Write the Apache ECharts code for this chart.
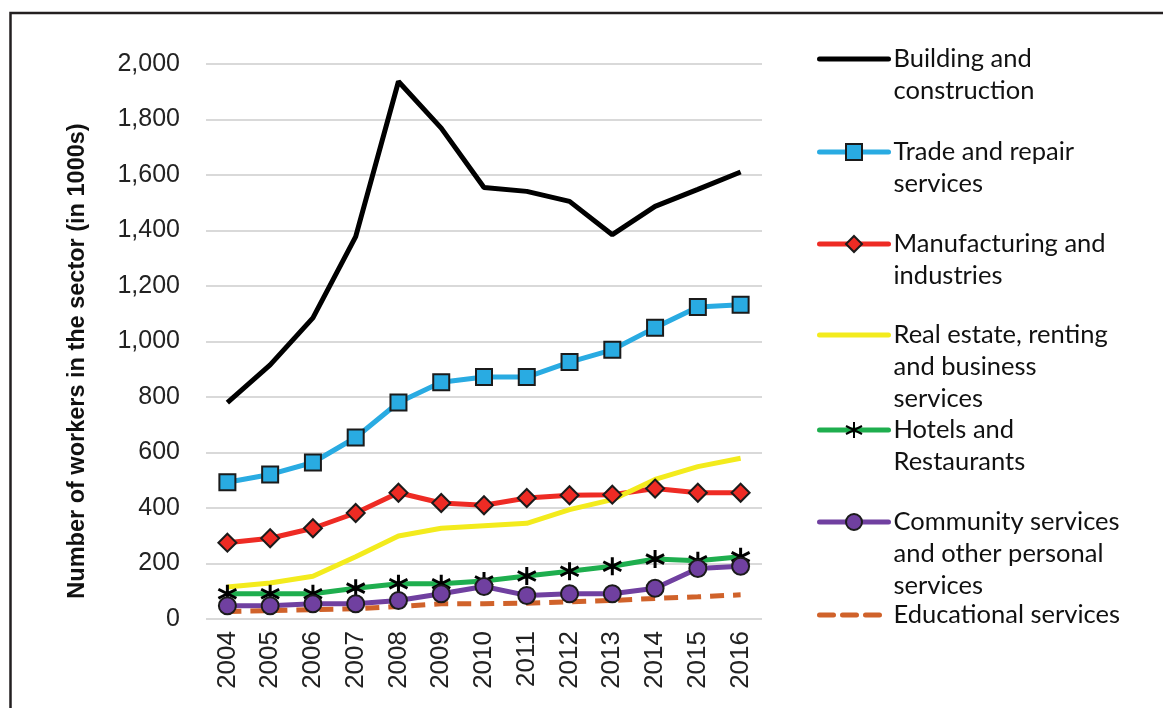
<!DOCTYPE html>
<html>
<head>
<meta charset="utf-8">
<title>Workers by sector</title>
<script src="https://cdn.jsdelivr.net/npm/echarts@6/dist/echarts.min.js"></script>
<style>
  html, body { margin: 0; padding: 0; background: #fff; }
  #chart { width: 1163px; height: 708px; }
</style>
</head>
<body>
<div id="chart"></div>
<script>
// data (workers in 1000s)
var years = ['2004', '2005', '2006', '2007', '2008', '2009', '2010', '2011', '2012', '2013', '2014', '2015', '2016'];
var building = [780, 916, 1085, 1378, 1937, 1769, 1555, 1541, 1505, 1385, 1487, 1548, 1611];
var trade = [493, 521, 564, 654, 780, 853, 872, 872, 926, 970, 1050, 1124, 1132];
var manufacturing = [275, 291, 327, 382, 455, 418, 410, 436, 446, 448, 470, 455, 455];
var realEstate = [115, 130, 154, 224, 299, 327, 336, 345, 394, 430, 503, 549, 579];
var hotels = [91, 91, 91, 111, 127, 127, 137, 155, 172, 190, 216, 210, 224];
var community = [48, 48, 55, 55, 67, 91, 117, 85, 91, 91, 111, 182, 190];
var education = [27, 30, 34, 37, 45, 55, 55, 57, 62, 67, 74, 80, 87];

var yTicks = { min: 0, max: 2000, interval: 200 };

var chart = echarts.init(document.getElementById('chart'));

var lh = 32;
// one legend per series; blank lines on top keep the icon on the first text line
function legendFor(name, label, iconY, lineType, noSymbol) {
  var n = label.split('\n').length;
  var pad = new Array(n).join('\n');
  return {
    left: 817,
    top: iconY - (2 * n - 1) * lh / 2,
    orient: 'vertical',
    padding: 0,
    itemWidth: 69,
    itemHeight: 20,
    data: [{
      name: name,
      itemStyle: noSymbol ? { opacity: 0 } : {}
    }],
    lineStyle: { width: 5, type: lineType || 'solid', cap: 'round' },
    formatter: function () { return pad + label; },
    textStyle: {
      fontFamily: 'Lato',
      fontSize: 25.5,
      color: '#111',
      lineHeight: lh
    }
  };
}

var asterisk = 'path://M10,0L10,20M1,5L19,15M1,15L19,5';

var option = {
  animation: false,
  backgroundColor: '#fff',
  grid: { left: 206, right: 401, top: 64, bottom: 89 },
  xAxis: {
    type: 'category',
    data: years,
    axisLine: { show: false },
    axisTick: { show: false },
    axisLabel: {
      rotate: 90,
      margin: 12,
      fontFamily: 'Liberation Sans',
      fontSize: 26,
      color: '#222'
    }
  },
  yAxis: {
    type: 'value',
    min: yTicks.min,
    max: yTicks.max,
    interval: yTicks.interval,
    axisLine: { show: false },
    axisTick: { show: false },
    splitLine: { lineStyle: { color: '#d9d9d9', width: 2 } },
    axisLabel: {
      margin: 26,
      fontFamily: 'Liberation Sans',
      fontSize: 25,
      color: '#222',
      formatter: function (v) { return v.toLocaleString('en-US'); }
    }
  },
  legend: [
    legendFor('Building and construction', 'Building and\nconstruction', 59, 'solid', true),
    legendFor('Trade and repair services', 'Trade and repair\nservices', 152),
    legendFor('Manufacturing and industries', 'Manufacturing and\nindustries', 244),
    legendFor('Real estate, renting and business services', 'Real estate, renting\nand business\nservices', 335, 'solid', true),
    legendFor('Hotels and Restaurants', 'Hotels and\nRestaurants', 430),
    legendFor('Community services and other personal services', 'Community services\nand other personal\nservices', 522),
    legendFor('Educational services', 'Educational services', 615, [14, 9], true)
  ],
  graphic: [
    {
      type: 'rect',
      shape: { x: 10.5, y: 13, width: 1300, height: 900 },
      style: { fill: null, stroke: '#231f20', lineWidth: 2.5 },
      silent: true
    },
    {
      type: 'text',
      x: 78,
      y: 361,
      rotation: Math.PI / 2,
      style: {
        text: 'Number of workers in the sector (in 1000s)',
        fontFamily: 'Liberation Sans',
        fontWeight: 'bold',
        fontSize: 23.5,
        fill: '#111',
        align: 'center',
        verticalAlign: 'middle'
      }
    }
  ],
  series: [
    {
      name: 'Building and construction',
      type: 'line',
      data: building,
      symbol: 'none',
      lineStyle: { color: '#000', width: 5 },
      itemStyle: { color: '#000' }
    },
    {
      name: 'Trade and repair services',
      type: 'line',
      data: trade,
      symbol: 'rect',
      symbolSize: 16,
      lineStyle: { color: '#29abe2', width: 5 },
      itemStyle: { color: '#29abe2', borderColor: '#1b1b1b', borderWidth: 2 }
    },
    {
      name: 'Manufacturing and industries',
      type: 'line',
      data: manufacturing,
      symbol: 'diamond',
      symbolSize: 18,
      lineStyle: { color: '#ee2b24', width: 5 },
      itemStyle: { color: '#ee2b24', borderColor: '#1b1b1b', borderWidth: 2 }
    },
    {
      name: 'Real estate, renting and business services',
      type: 'line',
      data: realEstate,
      symbol: 'none',
      lineStyle: { color: '#f3eb1d', width: 5 },
      itemStyle: { color: '#f3eb1d' }
    },
    {
      name: 'Hotels and Restaurants',
      type: 'line',
      data: hotels,
      symbol: asterisk,
      symbolSize: 18,
      lineStyle: { color: '#1eae4e', width: 5 },
      itemStyle: { color: '#000', borderColor: '#000', borderWidth: 3 }
    },
    {
      name: 'Community services and other personal services',
      type: 'line',
      data: community,
      symbol: 'circle',
      symbolSize: 17,
      lineStyle: { color: '#7040a0', width: 5 },
      itemStyle: { color: '#7040a0', borderColor: '#1b1b1b', borderWidth: 2 }
    },
    {
      name: 'Educational services',
      type: 'line',
      data: education,
      symbol: 'none',
      lineStyle: { color: '#d0622a', width: 5, type: [14, 9] },
      itemStyle: { color: '#d0622a' }
    }
  ]
};

chart.setOption(option);
</script>
</body>
</html>
